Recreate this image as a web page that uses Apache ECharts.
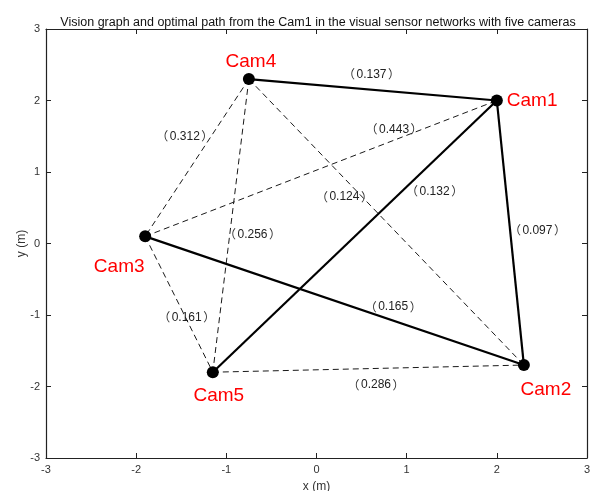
<!DOCTYPE html>
<html>
<head>
<meta charset="utf-8">
<script src="https://cdn.jsdelivr.net/npm/echarts@6/dist/echarts.min.js"></script>
<style>html,body{margin:0;padding:0;background:#fff}#c{width:593px;height:491px}</style>
</head>
<body>
<div id="c"></div>
<script>
var cams = ['Cam1', 'Cam2', 'Cam3', 'Cam4', 'Cam5'];
var camX = [2, 2.3, -1.9, -0.75, -1.15];
var camY = [2, -1.7, 0.1, 2.3, -1.8];
var solidEdges = [[0, 3], [0, 1], [0, 4], [2, 1]];
var dashedEdges = [[3, 2], [3, 4], [3, 1], [2, 0], [2, 4], [4, 1]];
var weightText = ['0.137', '0.443', '0.312', '0.124', '0.132', '0.097', '0.256', '0.161', '0.165', '0.286'];
var weightX = [0.61, 0.86, -1.46, 0.31, 1.31, 2.45, -0.71, -1.44, 0.85, 0.66];
var weightY = [2.36, 1.59, 1.5, 0.65, 0.73, 0.18, 0.13, -1.04, -0.89, -1.98];
var xTicks = [-3, -2, -1, 0, 1, 2, 3];
var yTicks = [-3, -2, -1, 0, 1, 2, 3];

var camLabelCfg = {
  Cam1: { position: 'right', offset: [-1, 0] },
  Cam2: { position: 'bottom', offset: [22, 4] },
  Cam3: { position: 'bottom', offset: [-26, 10] },
  Cam4: { position: 'top', offset: [2, 3] },
  Cam5: { position: 'bottom', offset: [6, 3] }
};

function edgeSeries(edges, style) {
  return edges.map(function (e) {
    return {
      type: 'line',
      data: [[camX[e[0]], camY[e[0]]], [camX[e[1]], camY[e[1]]]],
      symbol: 'none',
      lineStyle: style,
      silent: true,
      animation: false,
      z: style.type === 'solid' ? 3 : 2
    };
  });
}

var series = [];
series = series.concat(edgeSeries(dashedEdges, { color: '#1a1a1a', width: 1, type: [6, 4] }));
series = series.concat(edgeSeries(solidEdges, { color: '#000', width: 2.2, type: 'solid' }));

series.push({
  type: 'scatter',
  symbol: 'circle',
  symbolSize: 12,
  itemStyle: { color: '#000', opacity: 1 },
  z: 5,
  animation: false,
  data: cams.map(function (n, i) {
    return {
      value: [camX[i], camY[i]],
      name: n,
      label: {
        show: true,
        formatter: n,
        position: camLabelCfg[n].position,
        offset: camLabelCfg[n].offset,
        color: '#ff0000',
        opacity: 1,
        fontSize: 19,
        fontFamily: 'Liberation Sans, Arial, sans-serif'
      }
    };
  })
});

series.push({
  type: 'scatter',
  symbolSize: 0,
  itemStyle: { opacity: 1 },
  z: 6,
  animation: false,
  silent: true,
  data: weightText.map(function (t, i) {
    return {
      value: [weightX[i], weightY[i]],
      label: {
        show: true,
        position: 'inside',
        formatter: '{p|（}{n|' + t + '}{p|）}',
        rich: {
          p: { color: '#333', fontSize: 12, fontFamily: '"Noto Sans CJK SC"' },
          n: { color: '#222', fontSize: 12, padding: [0, 1.5], fontFamily: 'Liberation Sans, Arial, sans-serif' }
        }
      }
    };
  })
});

var axisLine = { show: true, onZero: false, lineStyle: { color: '#222', width: 1.2 } };
var tick = { show: true, inside: true, length: 5, lineStyle: { color: '#222' } };
var lbl = { color: '#333', fontSize: 11, fontFamily: 'Liberation Sans, Arial, sans-serif' };

var chart = echarts.init(document.getElementById('c'));
chart.setOption({
  animation: false,
  backgroundColor: '#fff',
  title: {
    text: 'Vision graph and optimal path from the Cam1 in the visual sensor networks with five cameras',
    left: 313,
    textAlign: 'center',
    top: 11,
    textStyle: { fontSize: 12.5, fontWeight: 'normal', color: '#111', fontFamily: 'Liberation Sans, Arial, sans-serif' }
  },
  grid: { left: 46, right: 6, top: 29, bottom: 33, containLabel: false, outerBoundsMode: 'none' },
  xAxis: [{
    type: 'value', min: xTicks[0], max: xTicks[xTicks.length - 1], interval: 1,
    position: 'bottom',
    name: 'x (m)', nameLocation: 'middle', nameGap: 23, nameMoveOverlap: false,
    nameTextStyle: { color: '#333', fontSize: 12, fontFamily: 'Liberation Sans, Arial, sans-serif' },
    axisLine: axisLine, axisTick: tick, splitLine: { show: false },
    axisLabel: Object.assign({ margin: 6 }, lbl)
  }, {
    type: 'value', min: xTicks[0], max: xTicks[xTicks.length - 1], interval: 1,
    position: 'top',
    axisLine: axisLine, axisTick: tick, splitLine: { show: false },
    axisLabel: { show: false }
  }],
  yAxis: [{
    type: 'value', min: yTicks[0], max: yTicks[yTicks.length - 1], interval: 1,
    position: 'left',
    name: 'y (m)', nameLocation: 'middle', nameGap: 18, nameRotate: 90, nameMoveOverlap: false,
    nameTextStyle: { color: '#333', fontSize: 12, fontFamily: 'Liberation Sans, Arial, sans-serif' },
    axisLine: axisLine, axisTick: tick, splitLine: { show: false },
    axisLabel: Object.assign({ margin: 6 }, lbl)
  }, {
    type: 'value', min: yTicks[0], max: yTicks[yTicks.length - 1], interval: 1,
    position: 'right',
    axisLine: axisLine, axisTick: tick, splitLine: { show: false },
    axisLabel: { show: false }
  }],
  series: series
});
</script>
</body>
</html>
